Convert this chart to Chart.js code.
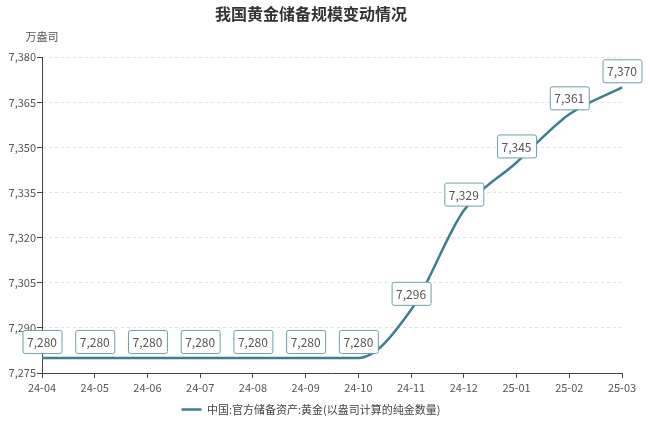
<!doctype html>
<html>
    <head>
        <meta charset="utf-8">
        <title>我国黄金储备规模变动情况</title>
        <script src="https://cdn.jsdelivr.net/npm/chart.js@4.4.1/dist/chart.umd.min.js"></script>
        <style>
            html, body { margin: 0; padding: 0; background: #fff; }
            #wrap { width: 650px; height: 425px; }
        </style>
    </head>
    <body>
        <div id="wrap">
            <canvas id="goldChart"></canvas>
        </div>

        <script>
            var months = ['24-04', '24-05', '24-06', '24-07', '24-08', '24-09',
                          '24-10', '24-11', '24-12', '25-01', '25-02', '25-03'];
            var goldReserves = [7280, 7280, 7280, 7280, 7280, 7280,
                                7280, 7296, 7329, 7345, 7361, 7370];
            var seriesName = '中国:官方储备资产:黄金(以盎司计算的纯金数量)';
            var unitLabel = '万盎司';

            var cjk = '"Noto Sans CJK SC", "Noto Sans", sans-serif';
            var lineColor = '#3f7e8b';

            // boxed value labels above each point + unit text over the y axis
            var boxLabels = {
                id: 'boxLabels',
                afterDatasetsDraw: function(chart) {
                    var ctx = chart.ctx;
                    var meta = chart.getDatasetMeta(0);
                    ctx.save();
                    ctx.font = '12px ' + cjk;
                    ctx.textAlign = 'center';
                    ctx.textBaseline = 'middle';
                    meta.data.forEach(function(pt, i) {
                        var txt = goldReserves[i].toLocaleString('en-US');
                        var w = ctx.measureText(txt).width + 9;
                        var h = 23;
                        var x = pt.x - w / 2;
                        var y = pt.y - 5 - h;
                        ctx.fillStyle = '#ffffff';
                        ctx.strokeStyle = '#6f9ea7';
                        ctx.lineWidth = 1;
                        ctx.beginPath();
                        ctx.roundRect(x + 0.5, y + 0.5, w, h, 2);
                        ctx.fill();
                        ctx.stroke();
                        ctx.fillStyle = '#555';
                        ctx.fillText(txt, pt.x, y + h / 2 + 1);
                    });
                    var area = chart.chartArea;
                    ctx.font = '11px ' + cjk;
                    ctx.fillStyle = '#555';
                    ctx.fillText(unitLabel, area.left, area.top - 20);
                    ctx.restore();
                }
            };

            var ctx = document.getElementById('goldChart').getContext('2d');
            var chart = new Chart(ctx, {
                type: 'line',
                data: {
                    labels: months,
                    datasets: [{
                        label: seriesName,
                        data: goldReserves,
                        borderColor: lineColor,
                        backgroundColor: lineColor,
                        borderWidth: 2.5,
                        pointRadius: 0,
                        pointHoverRadius: 0,
                        cubicInterpolationMode: 'monotone',
                        fill: false
                    }]
                },
                options: {
                    responsive: true,
                    maintainAspectRatio: false,
                    animation: false,
                    layout: { padding: { left: 0, right: 28, bottom: 0 } },
                    plugins: {
                        title: {
                            display: true,
                            text: '我国黄金储备规模变动情况',
                            color: '#333',
                            font: { family: cjk, size: 16, weight: 'bold' },
                            padding: { top: 4, bottom: 34 }
                        },
                        legend: {
                            position: 'bottom',
                            labels: {
                                usePointStyle: true,
                                pointStyle: 'line',
                                pointStyleWidth: 20,
                                boxWidth: 20,
                                color: '#444',
                                font: { family: cjk, size: 11 },
                                padding: 5
                            }
                        },
                        tooltip: { enabled: false }
                    },
                    scales: {
                        x: {
                            offset: false,
                            grid: { drawOnChartArea: false, drawTicks: true, tickLength: 5, color: '#444' },
                            border: { color: '#444', width: 1 },
                            ticks: { color: '#555', font: { family: cjk, size: 11 }, padding: 3, maxRotation: 0, autoSkip: false },
                            afterFit: function(s) { s.height = 26; }
                        },
                        y: {
                            min: 7275,
                            max: 7380,
                            grid: { color: '#e2e2e2', tickColor: '#444', tickLength: 5, drawTicks: true },
                            border: { color: '#444', width: 1, dash: [3, 3] },
                            ticks: { stepSize: 15, color: '#555', font: { family: cjk, size: 11 }, padding: 1 },
                            afterFit: function(s) { s.width = 42; }
                        }
                    }
                },
                plugins: [boxLabels]
            });
        </script>
    </body>
</html>
